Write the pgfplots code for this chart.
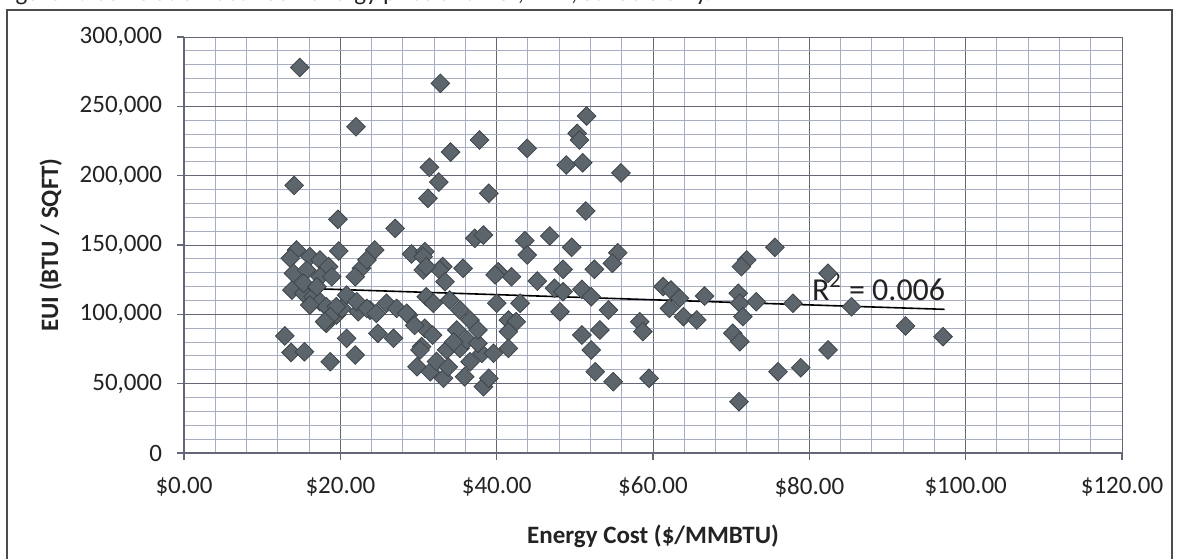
\documentclass[border=0pt]{standalone}
\usepackage{pgfplots}
\pgfplotsset{compat=1.18}
\usepackage{fontspec}
\setmainfont{Carlito}
\definecolor{mk}{RGB}{92,101,107}
\definecolor{mkd}{RGB}{62,70,76}
\definecolor{gmaj}{RGB}{100,103,118}
\definecolor{gmin}{RGB}{168,172,192}
\definecolor{txt}{RGB}{35,35,35}

\pgfplotstableread{
x y
14.8 278000
32.8 266600
22.0 235300
37.8 225700
34.1 217000
31.4 206000
32.6 195400
31.2 183700
39.0 187300
14.1 193000
19.7 168500
27.0 162000
37.2 154800
38.3 157200
19.8 145700
24.4 146400
29.1 143500
30.8 145200
33.1 134400
35.7 133200
40.2 130700
51.5 243000
50.3 230500
50.6 225700
43.9 219700
48.9 207700
51.0 209300
55.9 202000
51.4 174500
43.6 153100
46.8 156500
43.9 142800
49.6 148300
55.5 144400
54.8 136800
72.0 139200
71.3 134400
75.6 148300
41.9 127100
48.5 132500
52.5 132500
61.3 120000
62.3 117500
45.2 124000
12.9 84400
13.7 72500
15.4 73000
18.7 65800
20.8 82700
21.9 70700
18.2 93500
24.8 86300
26.8 82700
23.8 103000
25.9 108000
27.2 104300
28.7 99500
22.3 101900
30.8 89900
30.4 76700
29.8 62200
31.5 58600
33.2 53900
30.2 74300
33.6 74300
35.3 75500
36.6 65800
38.1 71900
38.3 47800
39.0 53900
35.9 55000
34.9 88700
36.2 81500
37.6 79100
34.0 110300
35.3 103100
36.6 95900
37.6 88700
31.0 112700
31.9 108000
30.6 132000
32.7 132000
33.4 123500
40.0 108000
39.8 128400
39.6 71900
19.5 99500
20.2 104300
47.4 118800
48.5 116300
50.9 118000
52.1 112700
43.0 108000
41.5 95900
42.5 94700
41.5 87500
41.5 75500
48.1 101900
54.3 103100
50.9 85100
53.2 88700
52.1 74300
52.6 58600
54.9 51400
59.5 53900
58.3 94700
58.7 87500
62.1 104300
63.4 111600
63.9 98300
65.6 95900
66.6 113200
70.9 115200
71.1 108000
73.2 109100
71.5 98300
70.2 86300
71.1 80300
71.0 37000
76.0 58600
77.9 108000
82.4 129600
85.4 105500
82.4 74300
78.9 61500
92.3 91600
97.1 83900
14.4 146400
13.6 140400
16.1 141600
17.4 139200
18.5 134400
14.0 129600
15.7 132000
17.4 127100
18.9 127100
13.8 117500
15.3 115200
16.5 112700
17.4 109100
18.2 105500
19.5 105500
18.7 98300
15.3 122400
17.0 119900
18.0 94700
16.1 106700
22.7 133200
21.9 127100
23.4 139200
20.8 113900
22.1 109100
23.4 104300
24.6 100700
28.5 100700
30.6 141600
31.0 134400
29.5 92000
31.8 85000
32.3 66000
33.8 62000
34.5 80000
}\scatterdata

\begin{document}
\begin{tikzpicture}
% outer chart frame
\draw[line width=1bp, color=black!70] (3.5bp,-5bp) -- (3.5bp,274.5bp) -- (586bp,274.5bp) -- (586bp,-5bp);
% clipped title (cut off at the top of the page)
\begin{scope}
\clip (0bp,270bp) rectangle (589.5bp,279.5bp);
\node[anchor=base west, inner sep=0pt, font=\fontsize{12.5bp}{15bp}\selectfont, text=txt] at (-1bp,279.3bp) {Figure 2. Correlation between energy price and EUI, KBD, schools only.};
\end{scope}
\begin{axis}[
  at={(92bp,53bp)}, anchor=south west,
  scale only axis, width=469bp, height=208bp,
  xmin=0, xmax=120, ymin=0, ymax=300000,
  xtick={0,20,...,120},
  xticklabels={\$0.00,\$20.00,\$40.00,\$60.00,\$80.00,\$100.00,\$120.00},
  ytick={0,50000,...,300000},
  yticklabels={{0},{50,000},{100,000},{150,000},{200,000},{250,000},{300,000}},
  minor x tick num=4, minor y tick num=4,
  grid=both,
  major grid style={color=gmaj, line width=0.5bp},
  minor grid style={color=gmin, line width=0.45bp},
  axis lines=left,
  axis line style={color=gmaj, line width=0.6bp, -},
  tick align=outside,
  major tick length=3.5bp, minor tick length=0pt,
  tick style={color=gmaj, line width=0.6bp},
  ticklabel style={font=\fontsize{12.5bp}{15bp}\selectfont, text=txt},
  xticklabel style={yshift=-5bp},
  yticklabel style={xshift=-4bp},
  xlabel={Energy Cost (\$/MMBTU)},
  ylabel={EUI (BTU / SQFT)},
  label style={font=\bfseries\fontsize{12.5bp}{15bp}\selectfont, text=txt},
  xlabel style={yshift=-7bp},
  ylabel style={yshift=2bp},
  clip=false,
  scaled ticks=false,
]
\addplot[only marks, mark=square*, mark size=3.3bp,
  mark options={rotate=45, fill=mk, draw=mkd, line width=0.4bp}]
  table[x=x, y=y] {\scatterdata};
\addplot[black, line width=0.8bp] coordinates {(12.9,119200) (97.3,103600)};
\node[anchor=base west, inner sep=0pt, font=\fontsize{16bp}{19bp}\selectfont, text=txt] at (axis cs:80.3,110300) {R\textsuperscript{2} = 0.006};
\end{axis}
\pgfresetboundingbox
\path[use as bounding box] (0bp,0bp) rectangle (589.5bp,279.5bp);
\end{tikzpicture}
\end{document}
